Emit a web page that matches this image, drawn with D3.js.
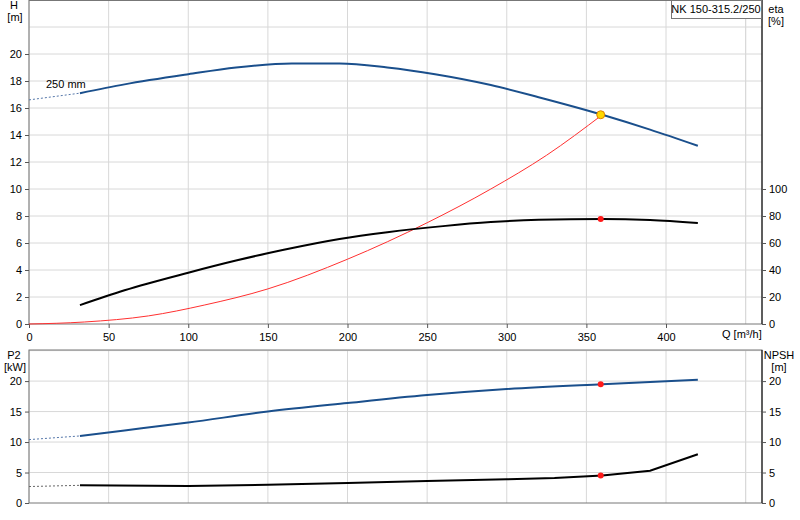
<!DOCTYPE html><html><head><meta charset="utf-8"><script src="https://cdn.jsdelivr.net/npm/d3@7"></script>
<style>body{margin:0;background:#fff}text{font-family:"Liberation Sans",Arial,sans-serif;font-size:11px}</style></head><body><svg id="c" width="800" height="520"></svg><script>
const headQ=[32,60,100,130,165,195,225,255,290,320,360,390,420];
const headH=[17.1,17.75,18.5,19.0,19.3,19.3,19.0,18.5,17.7,16.8,15.5,14.4,13.2];
const headExtQ=[0,32],headExtH=[16.6,17.1];
const etaQ=[32,60,100,130,160,195,225,260,290,320,360,390,420];
const etaV=[14,25,38,47,55,63,68,72.5,75.5,77.2,77.8,77,74.8];
const sysQ=[0,35,75,110,150,200,250,290,325,360];
const sysH=[0,0.15,0.6,1.4,2.6,4.8,7.5,10.0,12.5,15.5];
const p2Q=[32,60,100,150,200,250,300,360,420];
const p2V=[11.0,11.9,13.2,15.0,16.4,17.7,18.7,19.5,20.2];
const p2ExtQ=[0,32],p2ExtV=[10.4,11.0];
const npQ=[32,100,150,200,250,300,330,360,390,420];
const npV=[2.9,2.8,3.0,3.3,3.6,3.9,4.1,4.5,5.3,8.0];
const npExtQ=[0,32],npExtV=[2.7,2.9];
const duty={q:359,h:15.5,eta:77.8,p2:19.5,np:4.5};
const xTicks=[0,50,100,150,200,250,300,350,400];
const hTicks=[0,2,4,6,8,10,12,14,16,18,20];
const etaTicks=[0,20,40,60,80,100];
const lowTicks=[0,5,10,15,20];
const title="NK 150-315.2/250";

const svg=d3.select("#c");
const L=29,R=762;
const x=d3.scaleLinear().domain([0,460]).range([L,L+460*(637/400)]);
const yH=d3.scaleLinear().domain([0,24]).range([324,0]);
const yE=d3.scaleLinear().domain([0,240]).range([324,0]);
const yB=d3.scaleLinear().domain([0,25.1]).range([503,350]);
const grid="#d8d8d8";
function gridFor(y,top,bot,ys){
  d3.range(0,460,50).concat([450]).forEach(q=>svg.append("line").attr("x1",x(q)).attr("x2",x(q)).attr("y1",top).attr("y2",bot).attr("stroke",grid));
  ys.forEach(v=>svg.append("line").attr("x1",L).attr("x2",R).attr("y1",y(v)).attr("y2",y(v)).attr("stroke",grid));
}
gridFor(yH,0,324,d3.range(2,25,2));
gridFor(yB,350,503,[5,10,15,20,25]);
svg.append("rect").attr("x",L).attr("y",0.5).attr("width",R-L).attr("height",323.5).attr("fill","none").attr("stroke","#777");
svg.append("rect").attr("x",L).attr("y",350).attr("width",R-L).attr("height",153).attr("fill","none").attr("stroke","#777");
[[0,324],[350,503]].forEach(([a,b])=>svg.append("line").attr("x1",R).attr("x2",R).attr("y1",a).attr("y2",b).attr("stroke","#000"));
const gx=svg.append("g").attr("transform","translate(0,324)").call(d3.axisBottom(x).tickValues(xTicks).tickSize(4));
const gl=svg.append("g").attr("transform",`translate(${L},0)`).call(d3.axisLeft(yH).tickValues(hTicks).tickSize(4));
const ge=svg.append("g").attr("transform",`translate(${R},0)`).call(d3.axisRight(yE).tickValues(etaTicks).tickSize(4));
const gbl=svg.append("g").attr("transform",`translate(${L},0)`).call(d3.axisLeft(yB).tickValues(lowTicks).tickSize(4));
const gbr=svg.append("g").attr("transform",`translate(${R},0)`).call(d3.axisRight(yB).tickValues(lowTicks).tickSize(4));
[gx,gl,ge,gbl,gbr].forEach(g=>{g.select(".domain").remove();g.selectAll("line").attr("stroke","#555");g.selectAll("text").attr("fill","#000").style("font-size","11px").style("font-family","Liberation Sans");});
gx.selectAll("text").attr("dy","0.9em");
const T=(t,xx,yy,a)=>svg.append("text").attr("x",xx).attr("y",yy).attr("text-anchor",a||"middle").text(t);
T("H",14,9);T("[m]",15,21);T("eta",776,13);T("[%]",776,25);
T("P2",14,359);T("[kW]",15,371);T("NPSH",779,359);T("[m]",779,371);
T("Q [m³/h]",722,338,"start");T("250 mm",46,88,"start");
svg.append("rect").attr("x",671.5).attr("y",0.5).attr("width",90).attr("height",18).attr("fill","#fff").attr("stroke","#777");
T(title,716,13);
const line=(xs,ys,sy,c)=>d3.line().curve(c||d3.curveMonotoneX).x((d,i)=>x(xs[i])).y((d,i)=>sy(ys[i]))(xs);
const path=(d,c,w,dash)=>svg.append("path").attr("d",d).attr("fill","none").attr("stroke",c).attr("stroke-width",w).attr("stroke-dasharray",dash||null);
path(line(headExtQ,headExtH,yH),"#5577aa",1,"2,2");
path(line(p2ExtQ,p2ExtV,yB),"#5577aa",1,"2,2");
path(line(npExtQ,npExtV,yB),"#666",1,"2,2");
path(line(sysQ,sysH,yH),"#ff3030",1);
path(line(headQ,headH,yH),"#1a4f8c",2);
path(line(etaQ,etaV,yE),"#000",2);
path(line(p2Q,p2V,yB),"#1a4f8c",2);
path(line(npQ,npV,yB,d3.curveLinear),"#000",2);
svg.append("circle").attr("cx",x(duty.q)).attr("cy",yH(duty.h)).attr("r",4).attr("fill","#ffd800").attr("stroke","#e08000");
[[yE,duty.eta],[yB,duty.p2],[yB,duty.np]].forEach(([s,v])=>svg.append("circle").attr("cx",x(duty.q)).attr("cy",s(v)).attr("r",3).attr("fill","#ff1a1a"));
</script></body></html>
